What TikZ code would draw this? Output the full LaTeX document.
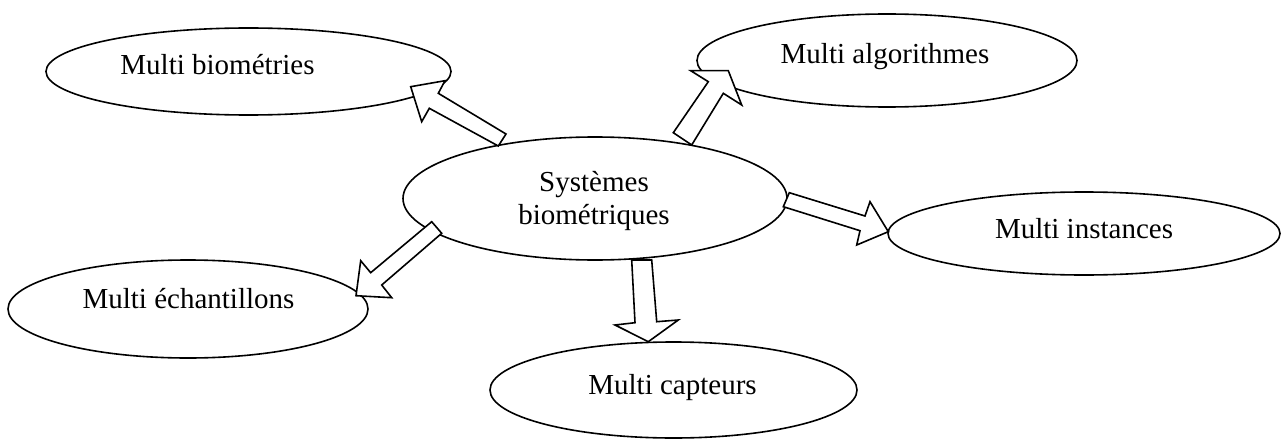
\documentclass[tikz,border=0pt]{standalone}
\usepackage{fontspec}
\setmainfont{Liberation Serif}
\usetikzlibrary{shapes.geometric}
\begin{document}
\begin{tikzpicture}[x=1pt,y=-1pt,
  bubble/.style={draw=black,line width=1.6pt,ellipse,inner sep=0pt,outer sep=0pt,fill=white},
  caption/.style={anchor=base,inner sep=0pt,font=\fontsize{29}{34}\selectfont},
  blockarrow/.style={draw=black,fill=white,line width=1.6pt,line join=miter}]
\useasboundingbox (0,0) rectangle (1281,441);

% ellipses
\node[bubble,minimum width=405pt,minimum height=87pt] (bio)  at (248.5,71.5) {};
\node[bubble,minimum width=380pt,minimum height=93pt] (alg)  at (887,60.5) {};
\node[bubble,minimum width=384pt,minimum height=123pt] (sys) at (595,198.5) {};
\node[bubble,minimum width=392pt,minimum height=83pt] (inst) at (1084,233.5) {};
\node[bubble,minimum width=360pt,minimum height=98pt] (ech)  at (188,309) {};
\node[bubble,minimum width=367pt,minimum height=96pt] (capt) at (673.5,390) {};

% labels
\node[caption] (tbio)  at (217.5,75)  {Multi biométries};
\node[caption] (talg)  at (885,63.3)  {Multi algorithmes};
\node[caption] (tsysa) at (594,191.7) {Systèmes};
\node[caption] (tsysb) at (594,224)   {biométriques};
\node[caption] (tinst) at (1084,238.3) {Multi instances};
\node[caption] (tech)  at (188.5,308.3) {Multi échantillons};
\node[caption] (tcapt) at (672.5,394) {Multi capteurs};

% block arrows
\draw[blockarrow] (498.3,146) -- (429.3,108.3) -- (421.7,121.7) -- (410.7,86.7)
  -- (445,80.7) -- (438.3,93.3) -- (506,134) -- cycle;
\draw[blockarrow] (673.3,132.7) -- (708.3,81.7) -- (690.7,70.7) -- (728.3,70.7)
  -- (741.7,105) -- (723.3,93.3) -- (691.7,145) -- cycle;
\draw[blockarrow] (431.7,221.7) -- (370.7,272.7) -- (360.7,260.7) -- (356,295.7)
  -- (391.7,297.7) -- (381.7,285) -- (441.7,233.3) -- cycle;
\draw[blockarrow] (631.7,260) -- (635,322.7) -- (615,325) -- (648.3,341.7)
  -- (678.3,320) -- (656.7,321.7) -- (651.7,260) -- cycle;
\draw[blockarrow] (789.3,192.7) -- (865,216) -- (870,201.7) -- (888.3,231.7)
  -- (856.7,245) -- (860,230.7) -- (783.3,206.7) -- cycle;
\end{tikzpicture}
\end{document}
